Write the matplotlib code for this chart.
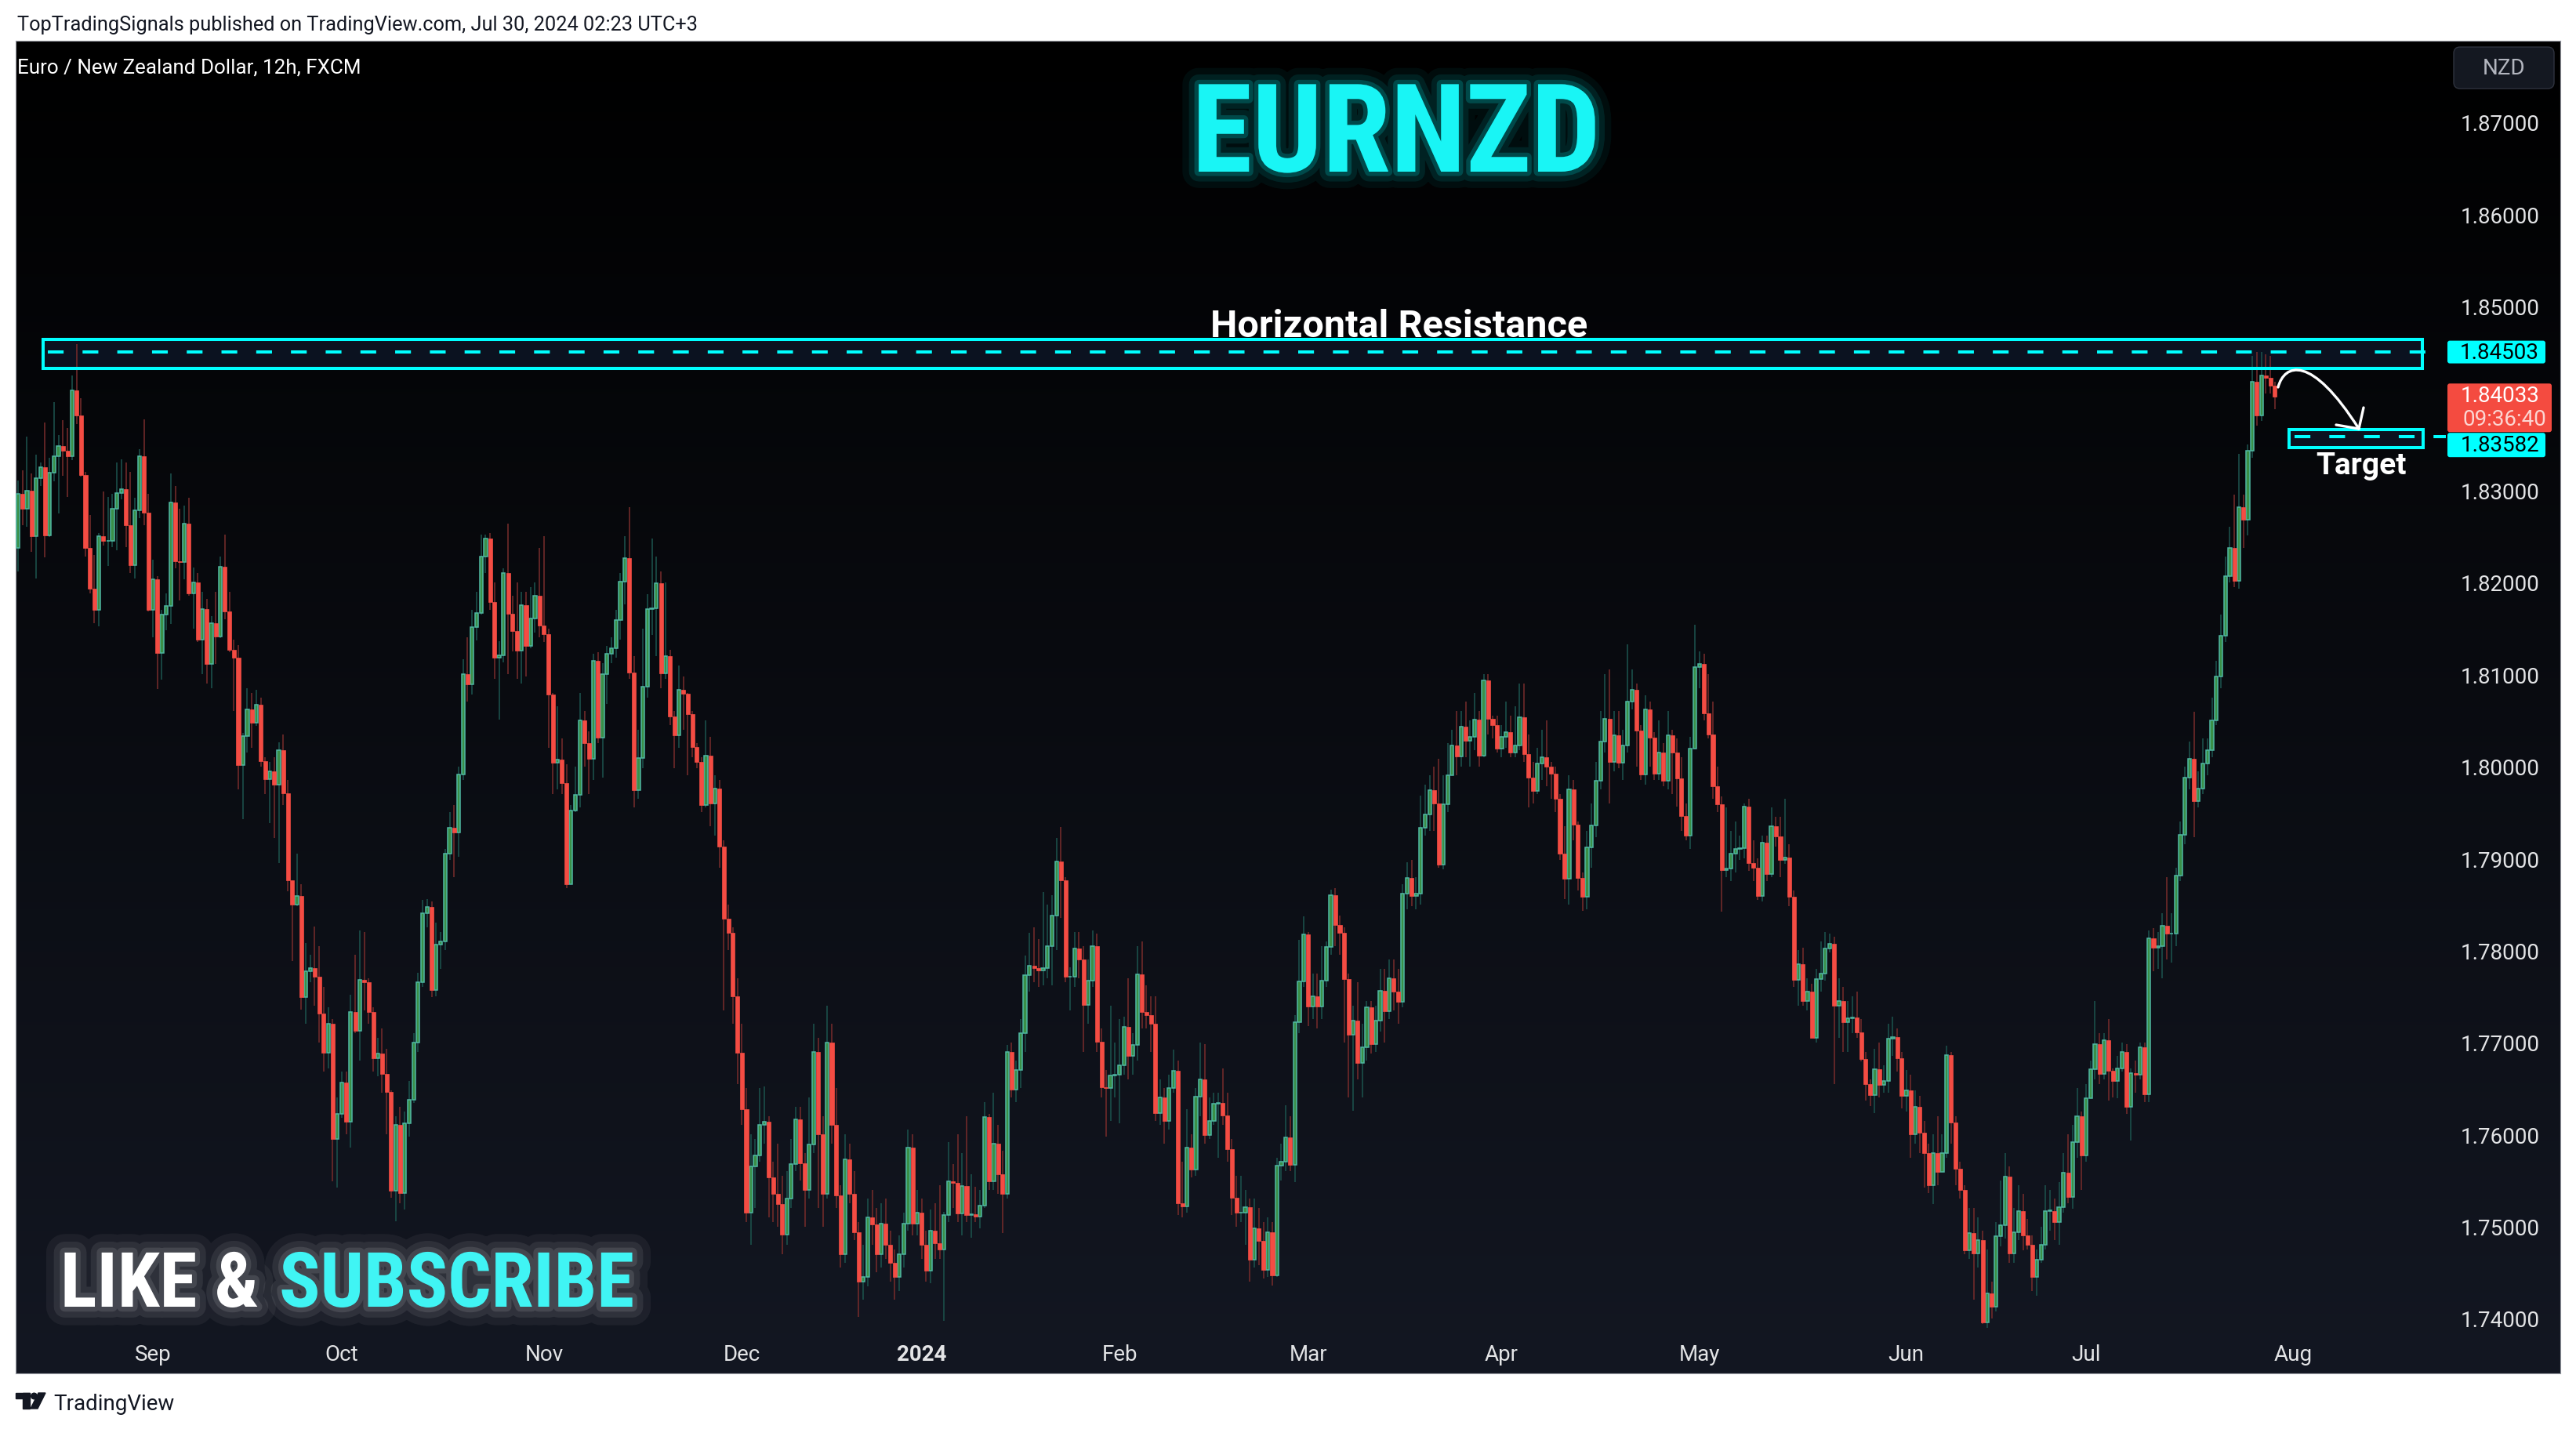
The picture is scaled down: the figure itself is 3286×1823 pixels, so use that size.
import numpy as np
import matplotlib
matplotlib.use('Agg')
import matplotlib.pyplot as plt
import matplotlib.patheffects as pe
from matplotlib.patches import Rectangle, FancyBboxPatch, PathPatch, Polygon, Circle
from matplotlib.path import Path
from matplotlib.transforms import Affine2D

W, H = 3286, 1824

# EURNZD 12h candles, prices as pips above 1.7000
base = 1.7
pip = 0.0001
first_open = 1237
close_pips = [
    1296, 1280, 1300, 1250, 1313, 1325, 1251, 1319, 1337, 1348,
    1343, 1337, 1409, 1381, 1317, 1237, 1193, 1170, 1250, 1245,
    1245, 1280, 1297, 1301, 1262, 1219, 1278, 1337, 1276, 1170,
    1203, 1123, 1165, 1174, 1287, 1223, 1222, 1264, 1188, 1200,
    1138, 1171, 1111, 1156, 1141, 1217, 1168, 1127, 1118, 1001,
    1033, 1062, 1047, 1067, 1006, 986, 995, 980, 1018, 971,
    876, 850, 859, 749, 777, 781, 771, 731, 689, 720,
    595, 622, 656, 614, 733, 713, 768, 765, 733, 683,
    688, 666, 646, 539, 610, 536, 612, 638, 700, 765,
    840, 847, 757, 806, 810, 905, 933, 928, 991, 1100,
    1089, 1151, 1167, 1228, 1248, 1179, 1118, 1121, 1210, 1166,
    1147, 1126, 1175, 1131, 1161, 1185, 1153, 1144, 1078, 1004,
    1007, 982, 872, 952, 969, 1050, 1025, 1008, 1115, 1031,
    1100, 1122, 1128, 1159, 1201, 1226, 1102, 974, 1009, 1087,
    1171, 1172, 1199, 1101, 1120, 1054, 1034, 1083, 1079, 1057,
    1021, 1005, 958, 1012, 960, 976, 913, 834, 819, 750,
    689, 627, 515, 565, 577, 610, 614, 553, 535, 524,
    491, 530, 568, 616, 569, 540, 589, 690, 600, 535,
    700, 610, 534, 470, 573, 535, 494, 440, 445, 510,
    502, 470, 503, 480, 460, 445, 470, 503, 586, 503,
    515, 480, 452, 495, 482, 475, 512, 549, 547, 514,
    544, 512, 513, 511, 523, 619, 549, 590, 557, 535,
    690, 649, 670, 710, 773, 783, 781, 778, 781, 805,
    838, 897, 876, 771, 771, 802, 790, 741, 767, 805,
    701, 651, 650, 664, 665, 675, 717, 685, 697, 774,
    733, 730, 720, 623, 640, 615, 650, 669, 525, 522,
    586, 562, 641, 660, 599, 615, 633, 634, 621, 584,
    531, 515, 515, 521, 464, 498, 484, 453, 494, 447,
    566, 570, 597, 567, 722, 766, 817, 739, 750, 739,
    767, 804, 860, 828, 819, 769, 708, 724, 678, 695,
    738, 698, 724, 756, 734, 770, 755, 744, 862, 879,
    859, 862, 933, 948, 974, 960, 893, 959, 990, 1023,
    1011, 1043, 1028, 1032, 1051, 1012, 1093, 1052, 1045, 1019,
    1032, 1037, 1015, 1023, 1053, 1013, 988, 973, 1003, 1010,
    1000, 992, 965, 905, 878, 975, 937, 879, 858, 912,
    936, 984, 1027, 1052, 1005, 1034, 1004, 1023, 1070, 1083,
    1039, 991, 1062, 1031, 992, 1015, 984, 1034, 1015, 987,
    946, 925, 1019, 1108, 1111, 1058, 1035, 978, 959, 887,
    889, 905, 910, 911, 956, 895, 890, 859, 917, 883,
    935, 924, 898, 901, 858, 768, 785, 745, 755, 705,
    769, 775, 802, 807, 740, 745, 722, 726, 727, 711,
    682, 655, 643, 671, 654, 658, 704, 706, 683, 642,
    648, 600, 630, 602, 580, 545, 580, 559, 580, 686,
    613, 563, 540, 474, 493, 471, 485, 396, 427, 413,
    489, 501, 554, 471, 494, 517, 490, 480, 445, 464,
    480, 517, 517, 505, 521, 558, 532, 592, 620, 577,
    639, 671, 698, 666, 702, 669, 658, 672, 690, 630,
    667, 665, 695, 644, 813, 803, 805, 827, 818, 818,
    881, 926, 988, 1008, 962, 976, 1003, 1018, 1050, 1098,
    1142, 1207, 1237, 1202, 1282, 1268, 1343, 1418, 1381, 1425,
    1422, 1414, 1402,
]
high_pips = [
    1311, 1322, 1358, 1318, 1339, 1330, 1374, 1335, 1396, 1360,
    1376, 1368, 1425, 1459, 1400, 1320, 1273, 1230, 1254, 1299,
    1293, 1296, 1330, 1334, 1330, 1320, 1292, 1345, 1377, 1296,
    1225, 1207, 1170, 1188, 1318, 1305, 1280, 1283, 1292, 1216,
    1210, 1190, 1182, 1163, 1190, 1228, 1252, 1190, 1138, 1132,
    1036, 1085, 1080, 1083, 1075, 1010, 1005, 1010, 1026, 1035,
    985, 870, 905, 872, 808, 795, 826, 805, 760, 738,
    725, 640, 668, 668, 752, 795, 822, 820, 770, 738,
    705, 715, 693, 648, 620, 630, 625, 658, 710, 776,
    855, 856, 853, 830, 820, 910, 950, 958, 1000, 1116,
    1140, 1170, 1190, 1252, 1252, 1254, 1200, 1136, 1215, 1264,
    1185, 1200, 1190, 1190, 1195, 1200, 1237, 1250, 1150, 1080,
    1065, 1030, 1002, 958, 1000, 1080, 1060, 1038, 1122, 1124,
    1112, 1131, 1140, 1170, 1210, 1250, 1282, 1120, 1040, 1150,
    1187, 1248, 1228, 1212, 1200, 1127, 1060, 1110, 1098, 1080,
    1060, 1025, 1010, 1050, 1032, 990, 985, 920, 850, 825,
    770, 720, 650, 600, 595, 650, 652, 620, 570, 590,
    555, 560, 595, 630, 630, 580, 640, 720, 705, 620,
    740, 720, 650, 545, 600, 590, 560, 505, 480, 530,
    540, 520, 525, 530, 495, 475, 490, 515, 605, 600,
    540, 530, 495, 518, 525, 545, 516, 592, 568, 600,
    580, 620, 557, 543, 540, 635, 622, 645, 610, 582,
    697, 700, 680, 725, 794, 819, 825, 812, 863, 850,
    860, 922, 934, 880, 782, 820, 820, 805, 790, 822,
    818, 715, 670, 740, 700, 725, 728, 770, 710, 805,
    810, 762, 750, 750, 660, 650, 665, 692, 680, 570,
    627, 600, 650, 700, 698, 640, 645, 645, 672, 645,
    595, 555, 555, 540, 530, 530, 520, 505, 510, 505,
    575, 590, 632, 620, 730, 811, 837, 820, 775, 775,
    805, 810, 866, 868, 838, 825, 775, 740, 765, 720,
    745, 745, 740, 780, 780, 790, 790, 780, 872, 896,
    898, 880, 968, 980, 990, 1000, 1008, 990, 1025, 1040,
    1060, 1060, 1070, 1050, 1080, 1060, 1100, 1100, 1055, 1055,
    1045, 1070, 1055, 1065, 1090, 1090, 1035, 1005, 1020, 1040,
    1050, 1005, 1000, 970, 935, 990, 985, 940, 885, 930,
    960, 1005, 1060, 1100, 1105, 1060, 1060, 1040, 1133, 1105,
    1090, 1045, 1077, 1070, 1037, 1050, 1025, 1060, 1040, 1030,
    1010, 960, 1032, 1154, 1125, 1122, 1100, 1070, 1000, 967,
    955, 930, 940, 925, 960, 965, 920, 900, 925, 925,
    955, 945, 945, 965, 915, 865, 800, 803, 770, 764,
    780, 810, 820, 818, 815, 770, 760, 745, 750, 755,
    725, 690, 660, 693, 700, 675, 720, 728, 715, 690,
    670, 665, 648, 642, 615, 590, 600, 620, 600, 696,
    690, 620, 570, 545, 520, 520, 510, 495, 475, 440,
    505, 550, 580, 565, 520, 545, 535, 508, 490, 475,
    500, 545, 540, 530, 548, 580, 600, 610, 650, 625,
    655, 680, 745, 710, 710, 725, 672, 685, 700, 698,
    672, 680, 700, 700, 822, 824, 820, 840, 880, 840,
    890, 940, 1000, 1027, 1059, 995, 1030, 1030, 1075, 1115,
    1165, 1228, 1260, 1295, 1340, 1295, 1350, 1446, 1450, 1450,
    1448, 1446, 1418,
]
low_pips = [
    1212, 1262, 1260, 1233, 1204, 1305, 1227, 1249, 1310, 1275,
    1316, 1293, 1333, 1372, 1315, 1228, 1188, 1156, 1152, 1240,
    1218, 1238, 1235, 1290, 1238, 1210, 1204, 1270, 1262, 1168,
    1140, 1084, 1094, 1148, 1155, 1215, 1180, 1203, 1185, 1150,
    1135, 1100, 1090, 1085, 1111, 1139, 1160, 1124, 1060, 975,
    943, 1015, 1020, 1044, 1000, 970, 938, 922, 895, 958,
    864, 788, 848, 736, 720, 765, 740, 700, 668, 672,
    549, 542, 618, 600, 586, 710, 680, 735, 720, 668,
    663, 645, 600, 531, 506, 525, 518, 598, 634, 690,
    760, 825, 749, 750, 780, 800, 898, 880, 902, 985,
    1070, 1078, 1137, 1165, 1210, 1170, 1095, 1051, 1113, 1100,
    1125, 1095, 1090, 1098, 1128, 1145, 1140, 1135, 1020, 970,
    975, 970, 868, 875, 950, 955, 1000, 970, 985, 1025,
    988, 1068, 1112, 1118, 1138, 1176, 1095, 955, 965, 998,
    1075, 1143, 1120, 1085, 1095, 1045, 998, 1020, 1040, 990,
    1010, 998, 950, 955, 935, 925, 890, 735, 800, 720,
    655, 610, 505, 480, 520, 570, 590, 510, 505, 500,
    470, 480, 520, 560, 550, 500, 530, 580, 520, 500,
    530, 590, 520, 455, 460, 525, 485, 402, 420, 435,
    480, 450, 455, 465, 440, 420, 430, 455, 495, 490,
    490, 465, 440, 438, 465, 465, 397, 505, 520, 505,
    490, 505, 488, 505, 498, 520, 540, 540, 535, 493,
    530, 640, 635, 650, 690, 755, 765, 760, 762, 770,
    762, 800, 835, 765, 735, 760, 770, 690, 720, 760,
    690, 640, 598, 615, 640, 612, 665, 660, 665, 680,
    715, 715, 690, 615, 610, 590, 605, 645, 512, 510,
    515, 553, 555, 620, 590, 595, 610, 575, 610, 570,
    512, 500, 505, 480, 440, 455, 458, 443, 445, 436,
    445, 550, 560, 560, 548, 710, 760, 718, 725, 715,
    725, 760, 795, 805, 795, 700, 640, 626, 660, 640,
    680, 688, 690, 712, 700, 725, 735, 720, 738, 845,
    848, 845, 850, 925, 930, 930, 890, 888, 950, 990,
    990, 1000, 1010, 1000, 1018, 1000, 1010, 1035, 1030, 1015,
    1010, 1020, 1010, 1010, 1018, 1005, 955, 960, 970, 985,
    978, 965, 950, 898, 856, 850, 920, 865, 843, 845,
    890, 923, 975, 1015, 960, 995, 998, 985, 1015, 1062,
    1000, 985, 980, 1000, 985, 985, 978, 975, 970, 956,
    930, 920, 910, 1020, 1085, 1050, 1030, 965, 950, 842,
    880, 875, 885, 898, 900, 886, 875, 855, 853, 875,
    880, 913, 880, 894, 848, 760, 740, 740, 735, 705,
    700, 755, 767, 798, 655, 705, 690, 690, 710, 705,
    679, 637, 631, 623, 640, 645, 645, 685, 668, 628,
    625, 575, 590, 580, 542, 536, 524, 545, 560, 575,
    590, 545, 530, 470, 465, 420, 455, 394, 390, 400,
    408, 478, 487, 460, 460, 485, 474, 475, 430, 425,
    460, 475, 495, 485, 480, 515, 525, 519, 575, 540,
    570, 645, 660, 655, 660, 637, 640, 639, 668, 622,
    593, 645, 660, 635, 635, 777, 780, 770, 790, 787,
    805, 875, 915, 975, 923, 955, 970, 990, 1010, 1045,
    1085, 1135, 1200, 1195, 1193, 1237, 1251, 1335, 1370, 1375,
    1405, 1405, 1388,
]

month_bars = [30, 72, 117, 161, 201, 245, 287, 330, 374, 420, 460, 506]
month_labels = ['Sep', 'Oct', 'Nov', 'Dec', '2024', 'Feb', 'Mar', 'Apr',
                'May', 'Jun', 'Jul', 'Aug']
price_ticks = [1.74, 1.75, 1.76, 1.77, 1.78, 1.79, 1.80, 1.81, 1.82, 1.83,
               1.85, 1.86, 1.87]

resistance = 1.84503
resistance_zone = (1.84325, 1.84640)
target = 1.83582
target_zone = (1.83464, 1.83660)
last_price = 1.84033
countdown = '09:36:40'

# colours
CYAN = '#00ffff'
UP_FILL, UP_EDGE, UP_WICK = '#3a8f47', '#4fb8a3', '#1b4f4a'
DN_FILL, DN_WICK = '#f44c43', '#702a2a'
TXT = '#e3e4e6'
FONT = 'Roboto'

c = base + np.array(close_pips) * pip
o = base + np.array([first_open] + close_pips[:-1]) * pip
hi = np.maximum(base + np.array(high_pips) * pip, np.maximum(o, c))
lo = np.minimum(base + np.array(low_pips) * pip, np.minimum(o, c))
x = np.arange(len(c))
up = c >= o

fig = plt.figure(figsize=(W / 100, H / 100), dpi=100, facecolor='white')
# pixel coordinates measured from the top-left corner
px = Affine2D().scale(1, -1).translate(0, H).scale(1 / 100) + fig.dpi_scale_trans

ax = fig.add_axes([20 / W, (H - 1753) / H, 3246 / W, 1700 / H])
top = np.array([0, 0, 0]) / 255
bot = np.array([19, 23, 34]) / 255
t = np.linspace(0, 1, 400)[:, None, None]
ax.imshow(top + (bot - top) * t, extent=(0, 1, 0, 1), transform=ax.transAxes,
          aspect='auto', zorder=0, interpolation='bilinear')
ax.set_xlim(-0.52, 565.5)
ax.set_ylim(1.73403, 1.87886)

# resistance zone fill below candles
ax.add_patch(Rectangle((5.6, resistance_zone[0]), 529.2,
                       resistance_zone[1] - resistance_zone[0],
                       facecolor='#0b1220', edgecolor='none', zorder=1))
ax.add_patch(Rectangle((505.2, target_zone[0]), 29.7,
                       target_zone[1] - target_zone[0],
                       facecolor='#0b1220', edgecolor='none', zorder=1))

# candles
ax.vlines(x[up], lo[up], hi[up], color=UP_WICK, lw=1.2, zorder=2)
ax.vlines(x[~up], lo[~up], hi[~up], color=DN_WICK, lw=1.2, zorder=2)
ax.bar(x[up], np.maximum(c - o, 0.00003)[up], bottom=o[up], width=0.74,
       color=UP_FILL, edgecolor=UP_EDGE, linewidth=1.1, zorder=3)
ax.bar(x[~up], np.maximum(o - c, 0.00003)[~up], bottom=c[~up], width=0.88,
       color=DN_FILL, edgecolor=DN_FILL, linewidth=0.5, zorder=3)

# zone outlines and dashed levels
ax.add_patch(Rectangle((5.6, resistance_zone[0]), 529.2,
                       resistance_zone[1] - resistance_zone[0],
                       facecolor='none', edgecolor=CYAN, lw=2.9, zorder=4))
ax.hlines(resistance, 6.6, 538.8, colors=CYAN, lw=2.9,
          linestyles=(0, (5, 6)), zorder=4)
ax.add_patch(Rectangle((505.2, target_zone[0]), 29.7,
                       target_zone[1] - target_zone[0],
                       facecolor='none', edgecolor=CYAN, lw=2.9, zorder=4))
ax.hlines(target, 506.3, 540.0, colors=CYAN, lw=2.9,
          linestyles=(0, (5, 6)), zorder=4)

# axes cosmetics
for s in ax.spines.values():
    s.set_color('#9598a1')
    s.set_linewidth(0.8)
ax.yaxis.tick_right()
ax.set_yticks(price_ticks)
ax.set_yticklabels(['%.5f' % p for p in price_ticks])
ax.tick_params(axis='y', length=0, pad=-92, labelsize=20, labelcolor=TXT)
ax.set_xticks(month_bars)
ax.set_xticklabels(month_labels)
ax.tick_params(axis='x', length=0, pad=-27, labelsize=20, labelcolor=TXT)
for lab in ax.get_yticklabels() + ax.get_xticklabels():
    lab.set_fontfamily(FONT)
ax.get_xticklabels()[4].set_fontweight('bold')


def price_y(p):
    # display y of a price, expressed in top-left pixel space
    return H - ax.transData.transform((0, p))[1]


def tag(y0, y1, fc, x0=3122, x1=3247):
    fig.patches.append(FancyBboxPatch((x0, y0), x1 - x0, y1 - y0,
                                      boxstyle='round,pad=0,rounding_size=3',
                                      transform=px, facecolor=fc,
                                      edgecolor='none', zorder=6))


yr = price_y(resistance)
tag(yr - 14.5, yr + 14.5, CYAN)
fig.text(3239, yr, '%.5f' % resistance, transform=px, ha='right', va='center',
         fontsize=20, family=FONT, color='#000000', zorder=7)

yl = price_y(last_price)
tag(yl - 15, yl + 47, '#f44b40', x1=3255)
fig.text(3239, yl, '%.5f' % last_price, transform=px, ha='right',
         va='center', fontsize=20, family=FONT, color='white', zorder=7)
fig.text(3248, yl + 30, countdown, transform=px, ha='right', va='center',
         fontsize=20, family=FONT, color='#fcd6d2', zorder=7)

yt = price_y(target) + 10
tag(yt - 15, yt + 16, CYAN)
fig.text(3239, yt, '%.5f' % target, transform=px, ha='right', va='center',
         fontsize=20, family=FONT, color='#000000', zorder=7)

# currency button
fig.patches.append(FancyBboxPatch((3130, 61), 128, 53,
                                  boxstyle='round,pad=0,rounding_size=8',
                                  transform=px, facecolor='#141821',
                                  edgecolor='#2f333e', lw=1, zorder=6))
fig.text(3194, 88, 'NZD', transform=px, ha='center', va='center',
         fontsize=20, family=FONT, color='#b2b5be', zorder=7)

# arrow to target
arc = Path([(2906, 495), (2914, 465), (2948, 452), (3009, 548)],
           [Path.MOVETO, Path.CURVE4, Path.CURVE4, Path.CURVE4])
fig.patches.append(PathPatch(arc, transform=px, facecolor='none',
                             edgecolor='white', lw=2.4, capstyle='round',
                             zorder=6))
head = Path([(3015, 521), (3009, 548), (2980, 543)],
            [Path.MOVETO, Path.LINETO, Path.LINETO])
fig.patches.append(PathPatch(head, transform=px, facecolor='none',
                             edgecolor='white', lw=2.4, capstyle='round',
                             joinstyle='round', zorder=6))

# chart texts
narrow = ['Liberation Sans Narrow', 'Roboto Condensed', 'Roboto']
fig.text(1781, 220, 'EURNZD', transform=px, ha='center', va='baseline',
         fontsize=113, family=narrow, fontweight='bold', color='#19f5f5',
         zorder=7,
         path_effects=[pe.Stroke(linewidth=30, foreground=CYAN, alpha=0.05,
                                 joinstyle='round'),
                       pe.Stroke(linewidth=18, foreground=CYAN, alpha=0.09,
                                 joinstyle='round'),
                       pe.Stroke(linewidth=8, foreground=CYAN, alpha=0.18,
                                 joinstyle='round'),
                       pe.Normal()])
fig.text(1785, 430, 'Horizontal Resistance', transform=px, ha='center',
         va='baseline', fontsize=35, family=FONT, fontweight='bold',
         color='white', zorder=7)
fig.text(3012, 605, 'Target', transform=px, ha='center', va='baseline',
         fontsize=28, family=FONT, fontweight='bold', color='white',
         zorder=7)

haze = [pe.Stroke(linewidth=34, foreground='white', alpha=0.05,
                  joinstyle='round'),
        pe.Stroke(linewidth=20, foreground='white', alpha=0.08,
                  joinstyle='round'),
        pe.Stroke(linewidth=9, foreground='white', alpha=0.11,
                  joinstyle='round'),
        pe.Normal()]
fig.text(77, 1668, 'LIKE &', transform=px, ha='left', va='baseline',
         fontsize=70, family=narrow, fontweight='bold', color='white',
         zorder=7, path_effects=haze)
fig.text(356, 1668, 'SUBSCRIBE', transform=px, ha='left', va='baseline',
         fontsize=70, family=narrow, fontweight='bold', color='#40f4f4',
         zorder=7, path_effects=haze)

fig.text(22, 94, 'Euro / New Zealand Dollar, 12h, FXCM', transform=px,
         ha='left', va='baseline', fontsize=18.7, family=FONT,
         color='white', zorder=7)

# page header and footer
fig.text(22, 39, 'TopTradingSignals published on TradingView.com, '
         'Jul 30, 2024 02:23 UTC+3', transform=px, ha='left', va='baseline',
         fontsize=18.3, family=FONT, color='#131722')
logo = '#131722'
fig.patches.append(Rectangle((20, 1778), 18, 7, transform=px, color=logo))
fig.patches.append(Rectangle((29, 1778), 9, 20, transform=px, color=logo))
fig.patches.append(Circle((43.5, 1782), 3.8, transform=px, color=logo))
fig.patches.append(Polygon([(49, 1778), (58, 1778), (48, 1798), (39, 1798)],
                           closed=True, transform=px, color=logo))
fig.text(68, 1799, 'TradingView', transform=px, ha='left', va='baseline',
         fontsize=20, family=FONT, color=logo)

fig.savefig('out.png', dpi=100, facecolor='white')
